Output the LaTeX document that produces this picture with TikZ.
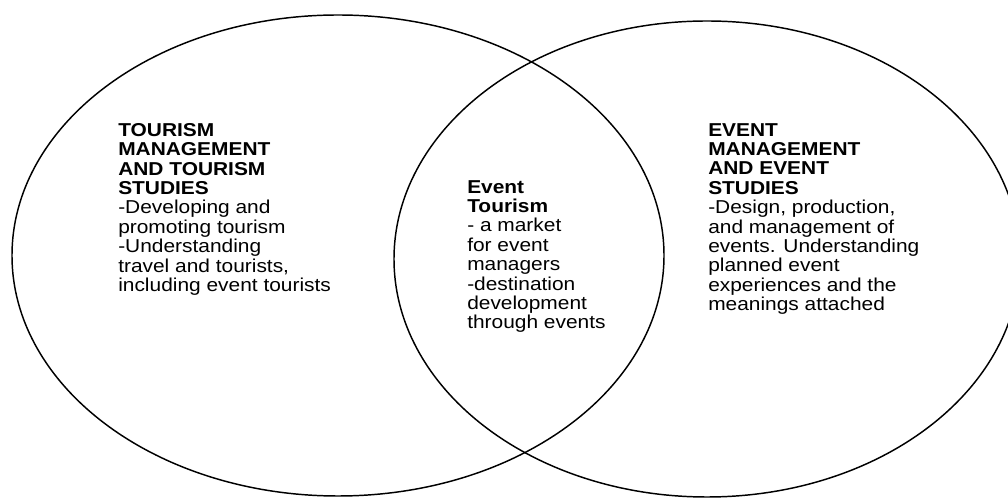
\documentclass[tikz,border=0pt]{standalone}
\usepackage{fontspec}
\setmainfont{Liberation Sans}[FakeStretch=1.12]
\begin{document}
\begin{tikzpicture}[x=0.75pt,y=-0.75pt,
  circ/.style={draw=black, line width=1.1pt},
  block/.style={anchor=north west, inner sep=0pt, align=left,
    font=\fontsize{14}{14.55}\selectfont}]
  \useasboundingbox (0,0) rectangle (1008,498);
  % the two overlapping fields
  \draw[circ] (338,255.5) ellipse [x radius=326, y radius=240.5];
  \draw[circ] (707,259) ellipse [x radius=313, y radius=238];
  % texts
  \node[block] (tour) at (118,123) {\textbf{TOURISM}\\\textbf{MANAGEMENT}\\\textbf{AND TOURISM}\\\textbf{STUDIES}\\-Developing and\\promoting tourism\\-Understanding\\travel and tourists,\\including event tourists};
  \node[block] (mid) at (467,180) {\textbf{Event}\\\textbf{Tourism}\\- a market\\for event\\managers\\-destination\\development\\through events};
  \node[block] (evt) at (708,123) {\textbf{EVENT}\\\textbf{MANAGEMENT}\\\textbf{AND EVENT}\\\textbf{STUDIES}\\-Design, production,\\and management of\\events. Understanding\\planned event\\experiences and the\\meanings attached};
\end{tikzpicture}
\end{document}
